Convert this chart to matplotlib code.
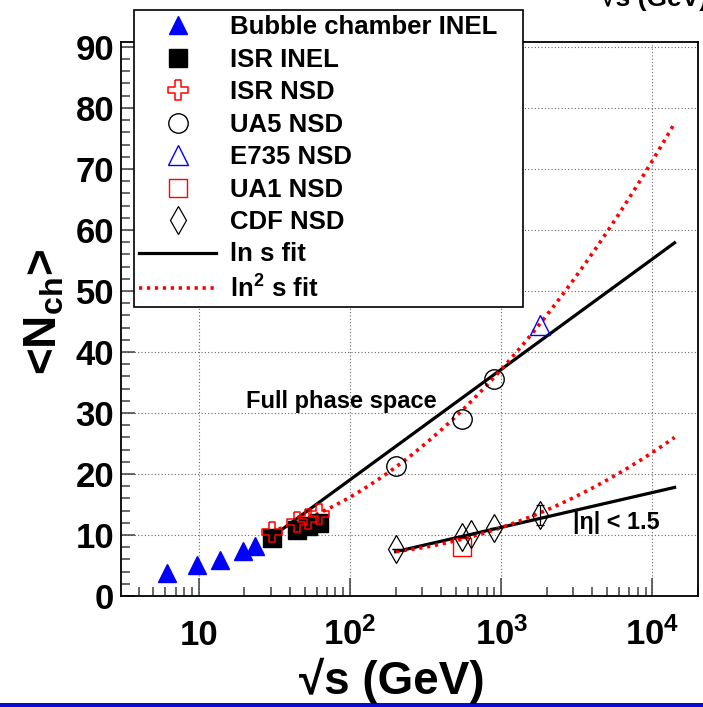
import numpy as np
import matplotlib
matplotlib.use("Agg")
import matplotlib.pyplot as plt
from matplotlib.lines import Line2D
from matplotlib.patches import Rectangle
from matplotlib.ticker import FixedLocator, NullFormatter

plt.rcParams['font.family'] = ['Liberation Sans', 'DejaVu Sans']
plt.rcParams['font.weight'] = 'bold'
plt.rcParams['mathtext.fontset'] = 'custom'
plt.rcParams['mathtext.rm'] = 'Liberation Sans:bold'
plt.rcParams['mathtext.it'] = 'Liberation Sans:bold'
plt.rcParams['mathtext.bf'] = 'Liberation Sans:bold'

# ---------------- data ----------------
bubble_x = [6.1, 9.7, 13.8, 19.5, 23.5]
bubble_y = [3.8, 5.1, 5.9, 7.4, 8.2]

isr_inel_x = [30.4, 44.5, 52.6, 62.2]
isr_inel_y = [9.5, 10.8, 11.4, 12.0]

isr_nsd_x = [30.4, 44.5, 52.6, 62.2]
isr_nsd_y = [10.5, 12.1, 12.7, 13.5]

ua5_x = [200, 546, 900]
ua5_y = [21.3, 29.0, 35.6]

e735_x = [1800]
e735_y = [44.4]

ua1_x = [546]
ua1_y = [8.1]

cdf_x = [200, 546, 630, 900, 1800]
cdf_y = [7.7, 9.7, 10.2, 11.2, 13.3]
cdf_err = [0.0, 0.0, 0.0, 0.0, 1.6]

# fit coefficients, y = c0 + c1*L + c2*L^2 with L = ln(sqrt(s))
full_lin = [-17.12, 7.857]
full_quad = [14.41, -5.398, 1.2576]
eta_lin = [-5.88, 2.48]
eta_quad = [21.56, -6.629, 0.743]
full_range = [30, 14000]
eta_range = [200, 14000]

xtick_vals = [10, 100, 1000, 10000]
xtick_labels = ['10', '$10^{2}$', '$10^{3}$', '$10^{4}$']
ytick_vals = [0, 10, 20, 30, 40, 50, 60, 70, 80, 90]

# ---------------- figure ----------------
W, H = 703, 707
fig = plt.figure(figsize=(W / 100, H / 100), dpi=100)
ax = fig.add_axes([121 / W, 1 - 596 / H, (698 - 121) / W, (596 - 42) / H])
ax.set_xscale('log')
ax.set_xlim(3.05, 2.0e4)
ax.set_ylim(0, 90.8)

# grid
for xv in xtick_vals:
    ax.axvline(xv, color='0.4', lw=0.8, ls=(0, (1, 2)), zorder=0)
for yv in ytick_vals[1:]:
    ax.axhline(yv, color='0.4', lw=0.8, ls=(0, (1, 2)), zorder=0)

# fits
def curve(coef, xr):
    xs = np.geomspace(xr[0], xr[1], 300)
    L = np.log(xs)
    ys = sum(c * L ** i for i, c in enumerate(coef))
    return xs, ys

xs, ys = curve(full_lin, full_range)
ax.plot(xs, ys, color='black', lw=2.3, zorder=3)
xs, ys = curve(full_quad, full_range)
ax.plot(xs, ys, color='#ff0000', lw=2.6, ls=(0, (0.9, 1.3)), zorder=3)
xs, ys = curve(eta_lin, eta_range)
ax.plot(xs, ys, color='black', lw=2.3, zorder=3)
xs, ys = curve(eta_quad, eta_range)
ax.plot(xs, ys, color='#ff0000', lw=2.6, ls=(0, (0.9, 1.3)), zorder=3)

cross = [(-1/3, 1), (1/3, 1), (1/3, 1/3), (1, 1/3), (1, -1/3), (1/3, -1/3),
         (1/3, -1), (-1/3, -1), (-1/3, -1/3), (-1, -1/3), (-1, 1/3), (-1/3, 1/3),
         (-1/3, 1)]

ax.plot(bubble_x, bubble_y, ls='none', marker='^', ms=13, color='#0000ff', mec='#0000ff', zorder=4)
ax.plot(isr_inel_x, isr_inel_y, ls='none', marker='s', ms=12.5, color='black', zorder=4)
ax.plot(isr_nsd_x, isr_nsd_y, ls='none', marker=cross, ms=14, mfc='none', mec='#ff0000', mew=1.1, zorder=5)
ax.plot(ua5_x, ua5_y, ls='none', marker='o', ms=14, mfc='none', mec='black', mew=1.0, zorder=5)
ax.plot(e735_x, e735_y, ls='none', marker='^', ms=14, mfc='none', mec='#0000ff', mew=1.0, zorder=5)
ax.plot(ua1_x, ua1_y, ls='none', marker='s', ms=13, mfc='none', mec='#ff0000', mew=1.0, zorder=5)
ax.errorbar(cdf_x, cdf_y, yerr=cdf_err, ls='none', marker='d', ms=14, mfc='none', mec='black',
            mew=0.9, ecolor='black', elinewidth=0.9, capsize=3, capthick=0.9, zorder=5)

ax.text(246 / W, 1 - 408 / H, 'Full phase space', transform=fig.transFigure,
        fontsize=17, fontweight='bold', ha='left', va='baseline')
ax.text(573 / W, 1 - 529 / H, '|η| < 1.5', transform=fig.transFigure,
        fontsize=16.8, fontweight='bold', ha='left', va='baseline')

# axes style
for sp in ax.spines.values():
    sp.set_linewidth(1.3)
ax.xaxis.set_major_locator(FixedLocator(xtick_vals))
ax.set_xticklabels(xtick_labels)
minors = [m * 10 ** e for e in range(0, 5) for m in range(2, 10)]
ax.xaxis.set_minor_locator(FixedLocator(minors))
ax.xaxis.set_minor_formatter(NullFormatter())
ax.yaxis.set_major_locator(FixedLocator(ytick_vals))
ax.yaxis.set_minor_locator(FixedLocator(list(range(0, 92, 2))))
ax.tick_params(axis='x', which='major', direction='in', length=13, width=1.1, pad=35,
               labelsize=25, top=False, color='0.25')
ax.tick_params(axis='x', which='minor', direction='in', length=6.5, width=1.1, top=False, color='0.25')
ax.tick_params(axis='y', which='major', direction='in', length=10, width=1.1, pad=5,
               labelsize=25, right=False, color='0.25')
ax.tick_params(axis='y', which='minor', direction='in', length=6.5, width=1.1, right=False, color='0.25')
for lab in ax.get_xticklabels():
    lab.set_fontweight('bold')
    lab.set_va('baseline')
for lab in ax.get_yticklabels():
    lab.set_fontweight('bold')

fig.text(392 / W, 1 - 694 / H, '√s (GeV)', fontsize=33, fontweight='bold', ha='center', va='baseline')
fig.text(44 / W, 1 - 312 / H, '<N$_{ch}$>', fontsize=33, fontweight='bold', ha='center', va='center',
         rotation=90)

# partial text at the top right (cut off by the figure edge, as in the reference)
fig.text(601 / W, 1 - 6 / H, '√s (GeV)', fontsize=19, fontweight='bold', ha='left', va='baseline')

# blue bar at bottom
fig.add_artist(Rectangle((0, 0), 1, 4 / H, transform=fig.transFigure, color='#0a0ad0', lw=0))

# legend
handles = [
    Line2D([], [], ls='none', marker='^', ms=13, color='#0000ff'),
    Line2D([], [], ls='none', marker='s', ms=12.5, color='black'),
    Line2D([], [], ls='none', marker=cross, ms=14, mfc='none', mec='#ff0000', mew=1.1),
    Line2D([], [], ls='none', marker='o', ms=14, mfc='none', mec='black', mew=1.0),
    Line2D([], [], ls='none', marker='^', ms=14, mfc='none', mec='#0000ff', mew=1.0),
    Line2D([], [], ls='none', marker='s', ms=13, mfc='none', mec='#ff0000', mew=1.0),
    Line2D([], [], ls='none', marker='d', ms=14, mfc='none', mec='black', mew=0.9),
    Line2D([], [], color='black', lw=2.3),
    Line2D([], [], color='#ff0000', lw=2.6, ls=(0, (0.9, 1.3))),
]
labels = ['Bubble chamber INEL', 'ISR INEL', 'ISR NSD', 'UA5 NSD', 'E735 NSD',
          'UA1 NSD', 'CDF NSD', 'ln s fit', 'ln$^{2}$ s fit']
leg = fig.legend(handles, labels, loc='upper left',
                 bbox_to_anchor=(134 / W, 1 - 10 / H, (523 - 134) / W, 0), mode='expand',
                 prop={'size': 18.5, 'weight': 'bold'}, frameon=True, fancybox=False, shadow=False,
                 borderaxespad=0, borderpad=0.2, labelspacing=0.33,
                 handlelength=3.0, handletextpad=0.55)
leg.get_frame().set_edgecolor('black')
leg.get_frame().set_linewidth(1.2)
leg.get_frame().set_alpha(1)

fig.savefig('out.png', dpi=100)
